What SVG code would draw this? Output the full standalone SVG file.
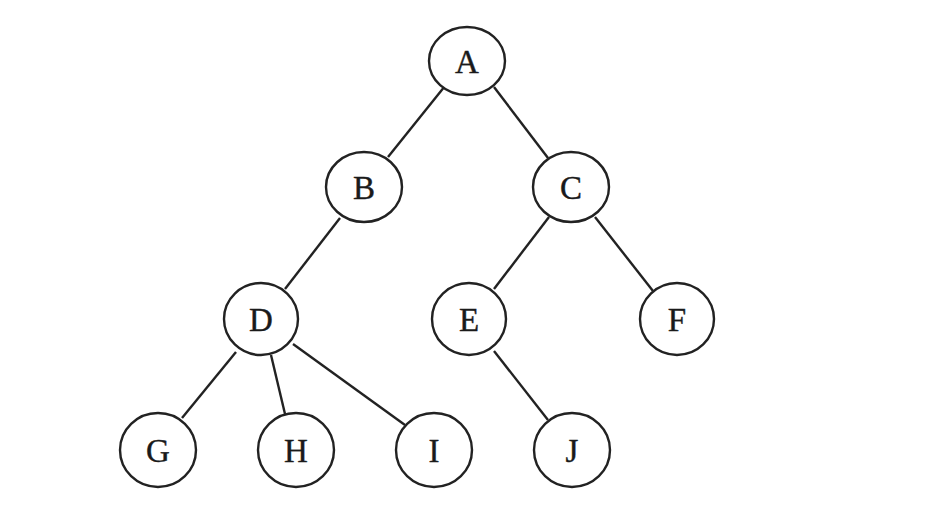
<svg xmlns="http://www.w3.org/2000/svg" width="940" height="520" viewBox="0 0 940 520">
<style>
.n ellipse{fill:#fff;stroke:#222;stroke-width:2.4}
.n text{font-family:"Liberation Serif","Times New Roman",serif;font-size:33px;fill:#1a1a1a;text-anchor:middle;dominant-baseline:central;stroke:#1a1a1a;stroke-width:0.4}
#edges line{stroke:#222;stroke-width:2.4}
</style>
<rect width="940" height="520" fill="#fff"/>
<g id="edges">
<line x1="445" y1="86" x2="388" y2="157"/>
<line x1="494" y1="87" x2="548" y2="158"/>
<line x1="340" y1="218" x2="285" y2="289"/>
<line x1="549" y1="217" x2="494" y2="289"/>
<line x1="595" y1="217" x2="653" y2="291"/>
<line x1="236" y1="352" x2="182" y2="418"/>
<line x1="271" y1="355" x2="285" y2="414"/>
<line x1="293" y1="344" x2="405" y2="425"/>
<line x1="494" y1="351" x2="548" y2="420"/>
</g>
<g id="A" class="n"><ellipse cx="467" cy="61" rx="38" ry="34"/><text x="467" y="62">A</text></g>
<g id="B" class="n"><ellipse cx="364" cy="187" rx="38" ry="35"/><text x="364" y="188">B</text></g>
<g id="C" class="n"><ellipse cx="571" cy="187" rx="38" ry="35"/><text x="571" y="188">C</text></g>
<g id="D" class="n"><ellipse cx="261" cy="319" rx="37" ry="36"/><text x="261" y="320">D</text></g>
<g id="E" class="n"><ellipse cx="469" cy="319" rx="37" ry="36"/><text x="469" y="320">E</text></g>
<g id="F" class="n"><ellipse cx="677" cy="319" rx="37" ry="36"/><text x="677" y="320">F</text></g>
<g id="G" class="n"><ellipse cx="158" cy="450" rx="38" ry="37"/><text x="158" y="451">G</text></g>
<g id="H" class="n"><ellipse cx="296" cy="450" rx="38" ry="37"/><text x="296" y="451">H</text></g>
<g id="I" class="n"><ellipse cx="434" cy="450" rx="38" ry="37"/><text x="434" y="451">I</text></g>
<g id="J" class="n"><ellipse cx="572" cy="450" rx="38" ry="37"/><text x="572" y="451">J</text></g>
</svg>
